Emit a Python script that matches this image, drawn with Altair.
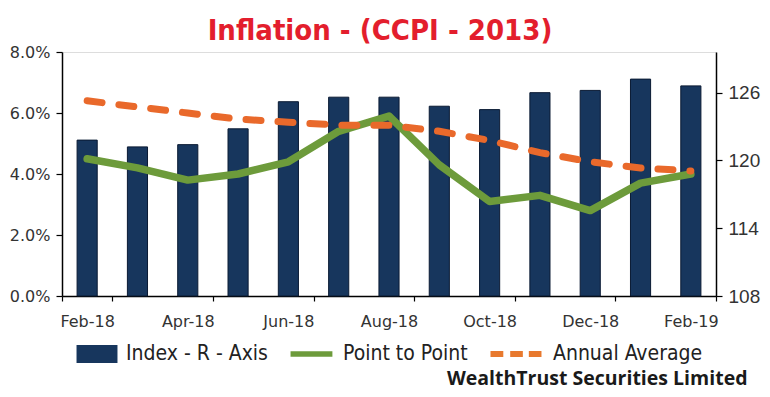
import altair as alt
import pandas as pd

months = ["Feb-18", "Mar-18", "Apr-18", "May-18", "Jun-18", "Jul-18", "Aug-18",
          "Sep-18", "Oct-18", "Nov-18", "Dec-18", "Jan-19", "Feb-19"]
label_months = ["Feb-18", "Apr-18", "Jun-18", "Aug-18", "Oct-18", "Dec-18", "Feb-19"]
index_values = [121.8, 121.2, 121.4, 122.8, 125.2, 125.6, 125.6, 124.8, 124.5, 126.0, 126.2, 127.2, 126.6]
point_to_point = [4.5, 4.2, 3.8, 4.0, 4.4, 5.4, 5.9, 4.3, 3.1, 3.3, 2.8, 3.7, 4.0]
annual_average = [6.4, 6.2, 6.0, 5.8, 5.7, 5.6, 5.6, 5.4, 5.1, 4.7, 4.4, 4.2, 4.1]
left_ticks = [0, 2, 4, 6, 8]
right_ticks = [108, 114, 120, 126]
series_names = ["Index - R - Axis", "Point to Point", "Annual Average"]

NAVY = "#17365d"
GREEN = "#6d9b3b"
ORANGE = "#e9692b"
series_colors = [NAVY, GREEN, "#e8792e"]
legend_paths = [
    "M-0.89,-0.39H0.89V0.39H-0.89Z",
    "M-1.02,-0.12H0.80V0.12H-1.02Z",
    "M-1.457,-0.13H-0.90V0.13H-1.457Z M-0.60,-0.13H-0.05V0.13H-0.60Z M0.21,-0.13H0.76V0.13H0.21Z",
]

df = pd.DataFrame({
    "month": months,
    "index": index_values,
    "p2p": point_to_point,
    "annual": annual_average,
})

x_axis = alt.Axis(
    values=label_months, tickBand="extent", labelAngle=0,
    domainColor="black", domainWidth=1.5, tickColor="black", tickWidth=1.2, tickSize=5,
    labelFont="DejaVu Sans", labelFontSize=16, labelColor="#333333", labelPadding=12,
    title="WealthTrust Securities Limited", titleFont="Open Sans", titleFontSize=19.5,
    titleFontWeight="bold", titleColor="#1a1a1a", titleAlign="right",
    titleAnchor="end", titleX=685, titleY=88, titleBaseline="alphabetic",
)
x_enc = alt.X("month:N", sort=months,
              scale=alt.Scale(domain=months, paddingInner=0, paddingOuter=0),
              axis=x_axis)

left_axis = alt.Axis(
    orient="left", values=left_ticks, labelExpr="format(datum.value, '.1f') + '%'",
    title=None, grid=False, domainColor="black", domainWidth=1.5, tickColor="black",
    tickWidth=1.2, tickSize=6, labelPadding=6, labelFont="DejaVu Sans", labelFontSize=16,
    labelColor="#333333",
)
right_axis = alt.Axis(
    orient="right", values=right_ticks, title=None, grid=False, domainColor="black",
    domainWidth=1.5, tickColor="black", tickWidth=1.2, tickSize=6, labelPadding=6,
    labelFont="Liberation Sans", labelFontSize=19, labelColor="#333333",
)
left_scale = alt.Scale(domain=[0, 8], nice=False, zero=True)

bars = alt.Chart(df).mark_bar(
    color=NAVY, stroke="#0a1a33", strokeWidth=1, width=alt.RelativeBandSize(0.4)
).encode(
    x=x_enc,
    y=alt.Y("index:Q", scale=alt.Scale(domain=[108, 129.6], nice=False, zero=False), axis=right_axis),
    y2=alt.datum(right_ticks[0]),
)

green = alt.Chart(df).mark_line(
    color=GREEN, strokeWidth=7.5, strokeJoin="round", strokeCap="round"
).encode(x=x_enc, y=alt.Y("p2p:Q", scale=left_scale, axis=left_axis))

orange = alt.Chart(df).mark_line(
    color=ORANGE, strokeWidth=7, strokeDash=[15, 17], strokeCap="round"
).encode(x=x_enc, y=alt.Y("annual:Q", scale=left_scale, axis=left_axis))

legend = alt.Legend(
    orient="none", legendX=12, legendY=279, direction="horizontal", title=None,
    symbolSize=2116, symbolStrokeWidth=0, symbolOpacity=1,
    labelFont="DejaVu Sans Condensed", labelFontSize=21, labelColor="#222222",
    labelOffset=6, columnPadding=22, labelLimit=300,
)
legend_layer = alt.Chart(df).transform_fold(
    ["p2p", "annual"], as_=["series", "value"]
).transform_filter("false").mark_point(filled=True).encode(
    x=x_enc,
    y=alt.Y("value:Q", scale=left_scale, axis=left_axis),
    color=alt.Color("series:N", scale=alt.Scale(domain=series_names, range=series_colors), legend=legend),
    shape=alt.Shape("series:N", scale=alt.Scale(domain=series_names, range=legend_paths), legend=legend),
)

lines = alt.layer(green, orange, legend_layer)

chart = alt.layer(bars, lines).resolve_scale(y="independent").properties(
    width=654, height=244,
    autosize=alt.AutoSizeParams(type="none"),
    padding={"left": 54, "top": 44, "right": 46, "bottom": 93},
    title=alt.TitleParams(
        "Inflation - (CCPI - 2013)", font="DejaVu Sans Condensed", fontSize=29,
        fontWeight="bold", color="#e31e2d", anchor="middle", dx=-9, offset=-2,
    ),
).configure_view(stroke=None).configure(background="white")

chart.save("out.html", embed_options={"renderer": "svg", "actions": False})
